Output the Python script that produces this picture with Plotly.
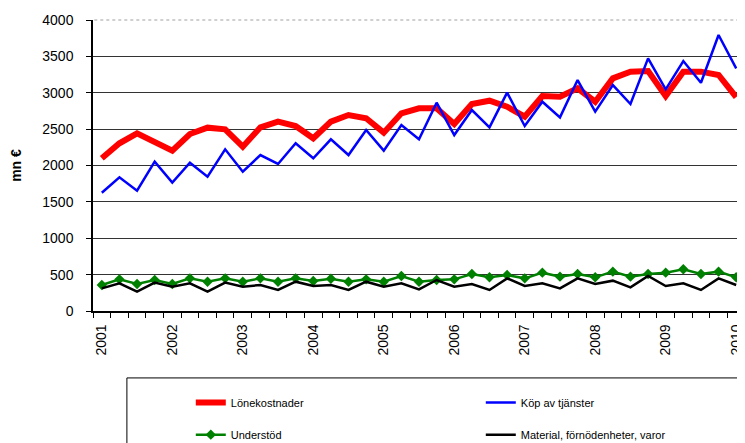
import plotly.graph_objects as go

years = ["2001", "2002", "2003", "2004", "2005", "2006", "2007", "2008", "2009", "2010"]
quarters = [f"{y} Q{q}" for y in years[:-1] for q in range(1, 5)] + ["2010 Q1"]

lonekostnader = [2100, 2305, 2442, 2328, 2204, 2433, 2520, 2497, 2259, 2525, 2603, 2543,
                 2374, 2603, 2694, 2649, 2451, 2717, 2786, 2786, 2570, 2845, 2891, 2808,
                 2671, 2955, 2946, 3061, 2877, 3198, 3290, 3299, 2955, 3290, 3290, 3244, 2940]
kop_tjanster = [1626, 1838, 1654, 2053, 1764, 2039, 1846, 2222, 1915, 2144, 2021, 2305,
                2099, 2360, 2144, 2488, 2204, 2557, 2360, 2863, 2419, 2763, 2525, 3001,
                2543, 2877, 2662, 3175, 2740, 3106, 2845, 3473, 3047, 3436, 3138, 3794, 3336]
understod = [357, 435, 371, 426, 371, 449, 403, 449, 403, 449, 403, 449,
             412, 444, 403, 435, 403, 481, 403, 426, 435, 509, 463, 495,
             449, 527, 472, 509, 463, 541, 472, 509, 527, 573, 509, 541, 463]
material = [311, 380, 266, 390, 335, 380, 266, 390, 335, 357, 289, 403,
            344, 357, 289, 403, 335, 380, 298, 426, 335, 371, 289, 449,
            344, 380, 311, 449, 371, 417, 325, 481, 344, 380, 289, 449, 357]

idx = list(range(len(quarters)))
year_pos = [i for i, q in enumerate(quarters) if q.endswith("Q1")]

fig = go.Figure()
fig.add_trace(go.Scatter(x=idx, y=lonekostnader, name="Lönekostnader", mode="lines",
                         line=dict(color="#ff0000", width=6), text=quarters, legend="legend"))
fig.add_trace(go.Scatter(x=idx, y=kop_tjanster, name="Köp av tjänster", mode="lines",
                         line=dict(color="#0000ff", width=2.5), text=quarters, legend="legend"))
fig.add_trace(go.Scatter(x=idx, y=understod, name="Understöd", mode="lines+markers",
                         line=dict(color="#008000", width=2.5),
                         marker=dict(symbol="diamond", size=8, color="#008000"), text=quarters,
                         legend="legend2"))
fig.add_trace(go.Scatter(x=idx, y=material, name="Material, förnödenheter, varor", mode="lines",
                         line=dict(color="#000000", width=2.5), text=quarters, legend="legend2"))

leg_common = dict(orientation="h", xanchor="left", yanchor="top", entrywidth=245,
                  borderwidth=0, font=dict(size=11), bgcolor="rgba(0,0,0,0)")

fig.update_layout(
    width=737, height=435,
    margin=dict(l=85, r=0, t=12, b=132, autoexpand=False),
    paper_bgcolor="white", plot_bgcolor="white",
    font=dict(family="Liberation Sans, Arial, sans-serif", size=12, color="black"),
    showlegend=True,
    legend=dict(x=0.15, y=-0.265, **leg_common),
    legend2=dict(x=0.15, y=-0.375, **leg_common),
    shapes=[
        dict(type="rect", xref="paper", yref="paper", x0=0.052, x1=0.992,
             y0=-0.23, y1=-0.7, line=dict(color="black", width=1), layer="above"),
        dict(type="line", xref="paper", yref="paper", x0=0.002, x1=1, y0=1, y1=1,
             line=dict(color="white", width=2.5), layer="below"),
        dict(type="line", xref="paper", yref="paper", x0=0.002, x1=1, y0=1, y1=1,
             line=dict(color="#a0a0a0", width=1.2, dash="dot"), layer="below"),
    ],
    xaxis=dict(range=[-0.5, len(quarters) - 0.5], tickvals=year_pos, ticktext=years,
               tickangle=-90, ticks="", showgrid=False, zeroline=False, automargin=False,
               showline=True, linecolor="black", linewidth=1.5,
               tickfont=dict(size=14), ticklabelstandoff=6,
               minor=dict(tick0=-0.5, dtick=1, ticks="outside", ticklen=5,
                          tickcolor="black", showgrid=False)),
    yaxis=dict(range=[0, 4000], dtick=500, ticks="outside", ticklen=5, tickcolor="black",
               showgrid=True, gridcolor="#333333", gridwidth=1.2, zeroline=False,
               showline=True, linecolor="black", linewidth=1.5, automargin=False,
               tickfont=dict(size=14), ticklabelstandoff=10, layer="below traces",
               title=dict(text="<b>mn €</b>", font=dict(size=14), standoff=22)),
)

fig.write_html("out.html")
